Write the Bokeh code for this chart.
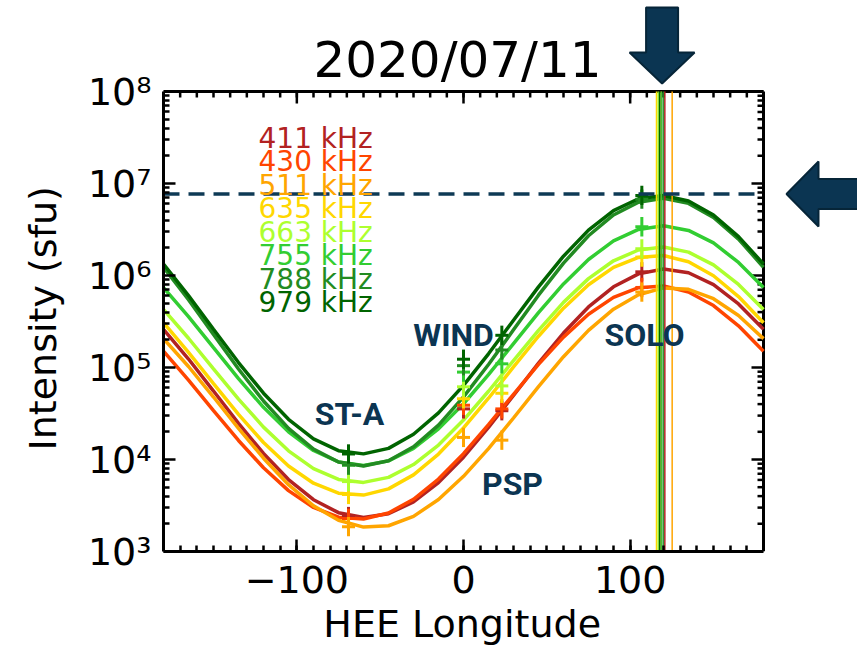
import numpy as np
from bokeh.plotting import figure
from bokeh.models import Range1d, FixedTicker, Label, CustomJSTickFormatter
from bokeh.embed import file_html
from bokeh.resources import INLINE

# ---------------------------------------------------------------- data
# HEE longitude grid (deg) of the fitted directivity curves
longitude = list(range(-180, 181, 15))

frequencies = ["411  kHz", "430  kHz", "511  kHz", "635  kHz",
               "663  kHz", "755  kHz", "788  kHz", "979  kHz"]
colors = ["#b22222", "#ff4500", "#ffa500", "#ffd700",
          "#adff2f", "#32cd32", "#228b22", "#006400"]

# log10 of the fitted intensity (sfu) along the longitude grid
logI_411 = [5.415, 5.092, 4.744, 4.393, 4.066, 3.782, 3.563, 3.422, 3.370, 3.410, 3.539, 3.749, 4.025,
            4.348, 4.696, 5.047, 5.375, 5.658, 5.877, 6.018, 6.070, 6.030, 5.901, 5.691, 5.415]
logI_430 = [5.177, 4.862, 4.531, 4.207, 3.910, 3.662, 3.479, 3.373, 3.353, 3.419, 3.567, 3.787, 4.063,
            4.378, 4.709, 5.034, 5.330, 5.579, 5.762, 5.867, 5.887, 5.821, 5.673, 5.453, 5.177]
logI_511 = [5.314, 5.011, 4.679, 4.339, 4.014, 3.726, 3.496, 3.339, 3.265, 3.280, 3.382, 3.565, 3.817,
            4.119, 4.451, 4.792, 5.117, 5.404, 5.634, 5.791, 5.865, 5.850, 5.748, 5.565, 5.314]
logI_635 = [5.487, 5.164, 4.824, 4.490, 4.185, 3.930, 3.742, 3.634, 3.613, 3.681, 3.833, 4.059, 4.343,
            4.666, 5.006, 5.340, 5.645, 5.900, 6.088, 6.196, 6.217, 6.149, 5.997, 5.771, 5.487]
logI_663 = [5.631, 5.318, 4.985, 4.656, 4.352, 4.094, 3.900, 3.783, 3.751, 3.806, 3.945, 4.157, 4.429,
            4.742, 5.075, 5.404, 5.708, 5.966, 6.160, 6.277, 6.309, 6.254, 6.115, 5.903, 5.631]
logI_755 = [5.869, 5.553, 5.215, 4.879, 4.567, 4.301, 4.098, 3.974, 3.935, 3.985, 4.121, 4.333, 4.606,
            4.922, 5.260, 5.597, 5.908, 6.174, 6.377, 6.501, 6.540, 6.490, 6.354, 6.142, 5.869]
logI_788 = [6.090, 5.737, 5.360, 4.984, 4.636, 4.338, 4.113, 3.973, 3.930, 3.986, 4.138, 4.374, 4.680,
            5.033, 5.410, 5.786, 6.134, 6.432, 6.658, 6.797, 6.840, 6.784, 6.632, 6.396, 6.090]
logI_979 = [6.125, 5.781, 5.416, 5.054, 4.721, 4.437, 4.225, 4.096, 4.061, 4.121, 4.274, 4.507, 4.805,
            5.149, 5.514, 5.876, 6.210, 6.493, 6.706, 6.834, 6.869, 6.809, 6.656, 6.423, 6.125]

# spacecraft and their HEE longitudes (deg)
spacecraft = ["ST-A", "WIND", "PSP", "SOLO"]
sc_longitude = [-69, 0, 23, 107]

# log10 of the observed peak intensity (sfu) at each spacecraft
obs_411 = [3.38, 4.55, 4.53, 6.04]
obs_430 = [3.36, 4.59, 4.55, 5.87]
obs_511 = [3.27, 4.24, 4.21, 5.82]
obs_635 = [3.62, 4.66, 4.72, 6.20]
obs_663 = [3.76, 4.79, 4.80, 6.29]
obs_755 = [3.94, 4.95, 5.04, 6.53]
obs_788 = [3.94, 5.02, 5.19, 6.83]
obs_979 = [4.06, 5.09, 5.35, 6.87]

# longitude of the fitted maximum for every frequency (deg)
peak_longitude = [120.8, 118.6, 125.2, 115.8, 116.8, 118.6, 119.8, 117.6]
# maximum fitted intensity (sfu)
peak_intensity = 7.7e6

x_major = [-100, 0, 100]
x_minor = list(range(-170, 180, 10))
y_major = [1e3, 1e4, 1e5, 1e6, 1e7, 1e8]
y_minor = [m * 10.0 ** e for e in range(3, 8) for m in range(2, 10)]

curves = [logI_411, logI_430, logI_511, logI_635, logI_663, logI_755, logI_788, logI_979]
observations = [obs_411, obs_430, obs_511, obs_635, obs_663, obs_755, obs_788, obs_979]

# ---------------------------------------------------------------- geometry
FONT = "DejaVu Sans"
NAVY = "#0b3552"
NBSP = "\u00a0"
W, H = 857, 648
BOX_L, BOX_R, BOX_T, BOX_B = 163, 763, 91, 551   # plot box in canvas pixels
X0, X1 = -180, 180
Y0, Y1 = 1e3, 1e8
DEG_PER_PX = (X1 - X0) / (BOX_R - BOX_L)
DEC_PER_PX = np.log10(Y1 / Y0) / (BOX_B - BOX_T)
LY1 = np.log10(Y1)

# the drawing area reaches the top and right edges of the canvas so that the
# arrows and the date can sit outside the axes box
x_range = Range1d(X0, X0 + (W - BOX_L) * DEG_PER_PX)
y_range = Range1d(Y0, 10 ** (LY1 + BOX_T * DEC_PER_PX))

p = figure(width=W, height=H, x_range=x_range, y_range=y_range, y_axis_type="log",
           output_backend="svg", toolbar_location=None,
           min_border_left=BOX_L, min_border_right=0, min_border_top=0,
           min_border_bottom=H - BOX_B)
p.grid.visible = False
p.outline_line_color = None
p.background_fill_color = "white"
p.border_fill_color = "white"

x_fmt = CustomJSTickFormatter(code="return tick < 0 ? '\\u2212' + Math.abs(tick) : String(tick);")
y_fmt = CustomJSTickFormatter(code="""
const sup = {'0':'\\u2070','1':'\\u00b9','2':'\\u00b2','3':'\\u00b3','4':'\\u2074',
             '5':'\\u2075','6':'\\u2076','7':'\\u2077','8':'\\u2078','9':'\\u2079'};
const e = Math.round(Math.log10(tick));
return '10' + String(e).split('').map(c => sup[c]).join('');
""")

for ax in (p.xaxis[0], p.yaxis[0]):
    ax.axis_line_width = 3
    ax.axis_line_color = "black"
    ax.major_tick_in = 12
    ax.major_tick_out = 0
    ax.minor_tick_in = 6
    ax.minor_tick_out = 0
    ax.major_tick_line_width = 2.5
    ax.minor_tick_line_width = 2.5
    ax.major_label_text_font = FONT
    ax.major_label_text_font_size = "38px"
    ax.major_label_text_color = "black"
    ax.axis_label_text_font = FONT
    ax.axis_label_text_font_size = "38px"
    ax.axis_label_text_font_style = "normal"
    ax.axis_label_text_color = "black"

# axis titles are centred on the drawing area, which is wider and taller than
# the box; trailing no-break spaces bring them back to the middle of the box
xb = p.xaxis[0]
xb.ticker = FixedTicker(ticks=x_major, minor_ticks=x_minor)
xb.formatter = x_fmt
xb.bounds = (X0, X1)
xb.axis_label = "HEE Longitude" + NBSP * 8
xb.major_label_standoff = 14
xb.axis_label_standoff = 6

yl = p.yaxis[0]
yl.ticker = FixedTicker(ticks=y_major, minor_ticks=y_minor)
yl.formatter = y_fmt
yl.bounds = (Y0, Y1)
yl.axis_label = "Intensity (sfu)" + NBSP * 7
yl.major_label_standoff = 12
yl.axis_label_standoff = 20

# top and right edges of the box with their inward ticks
p.segment(x0=[X0, X1], y0=[Y1, Y0], x1=[X1, X1], y1=[Y1, Y1], line_color="black", line_width=3)
for length, ticks in ((12, x_major), (6, x_minor)):
    p.segment(x0=ticks, y0=[Y1] * len(ticks), x1=ticks,
              y1=[10 ** (LY1 - length * DEC_PER_PX)] * len(ticks),
              line_color="black", line_width=2.5)
for length, ticks in ((12, y_major), (6, y_minor)):
    p.segment(x0=[X1] * len(ticks), y0=ticks, x1=[X1 - length * DEG_PER_PX] * len(ticks),
              y1=ticks, line_color="black", line_width=2.5)

# fitted directivity curves
for logI, c in zip(curves, colors):
    p.line(longitude, 10 ** np.array(logI), line_color=c, line_width=3.5)

# spacecraft measurements drawn as plus symbols
for obs, c in zip(observations, colors):
    v = np.array(obs)
    p.scatter(sc_longitude, 10 ** v, marker="dash", size=13, line_color=c, line_width=3)
    p.segment(x0=sc_longitude, y0=10 ** (v - 0.105), x1=sc_longitude, y1=10 ** (v + 0.105),
              line_color=c, line_width=3)

# longitude of each fitted maximum
p.segment(x0=peak_longitude, y0=[Y0] * len(peak_longitude), x1=peak_longitude,
          y1=[Y1] * len(peak_longitude), line_color=colors, line_width=1.5)

# maximum intensity level
p.segment(x0=[X0], y0=[peak_intensity], x1=[X1], y1=[peak_intensity],
          line_color="#0e3a55", line_dash="16 9", line_width=3.5)

# frequency legend
legend_x = X0 + 95 * DEG_PER_PX
for i, (name, c) in enumerate(zip(frequencies, colors)):
    p.add_layout(Label(x=legend_x, y=10 ** (LY1 - (46.5 + 23.5 * i) * DEC_PER_PX),
                       text=name, text_color=c, text_font=FONT, text_font_size="28px",
                       text_baseline="middle", text_align="left"))

# spacecraft names
name_dx = [0.6, -6.0, 6.4, 1.6]
name_logy = [4.50, 5.348, 3.739, 5.348]
for name, lon, dx, ly in zip(spacecraft, sc_longitude, name_dx, name_logy):
    p.add_layout(Label(x=lon + dx, y=10 ** ly, text=name, text_color=NAVY,
                       text_font="Roboto", text_font_size="32px", text_font_style="bold",
                       text_align="center", text_baseline="middle"))

# date above the box
p.add_layout(Label(x=X0 + (457 - BOX_L) * DEG_PER_PX, y=10 ** (LY1 + 32 * DEC_PER_PX),
                   text="2020/07/11", text_color="black", text_font=FONT,
                   text_font_size="50px", text_align="center", text_baseline="middle"))

# arrows pointing at the longitude and the level of the maximum
cx = float(np.mean(peak_longitude))
down = [(-16, 84), (16, 84), (16, 39), (32.5, 39), (0, 8), (-32.5, 39), (-16, 39)]
p.patch([cx + dx * DEG_PER_PX for dx, _ in down],
        [10 ** (LY1 + dy * DEC_PER_PX) for _, dy in down],
        fill_color=NAVY, line_color="#062538", line_width=2)

lp = np.log10(peak_intensity)
left = [(23, 0), (55, 32.5), (55, 15), (100, 15), (100, -15), (55, -15), (55, -32.5)]
p.patch([X1 + dx * DEG_PER_PX for dx, _ in left],
        [10 ** (lp + dy * DEC_PER_PX) for _, dy in left],
        fill_color=NAVY, line_color="#062538", line_width=2)

open("out.html", "w").write(file_html(p, INLINE))
